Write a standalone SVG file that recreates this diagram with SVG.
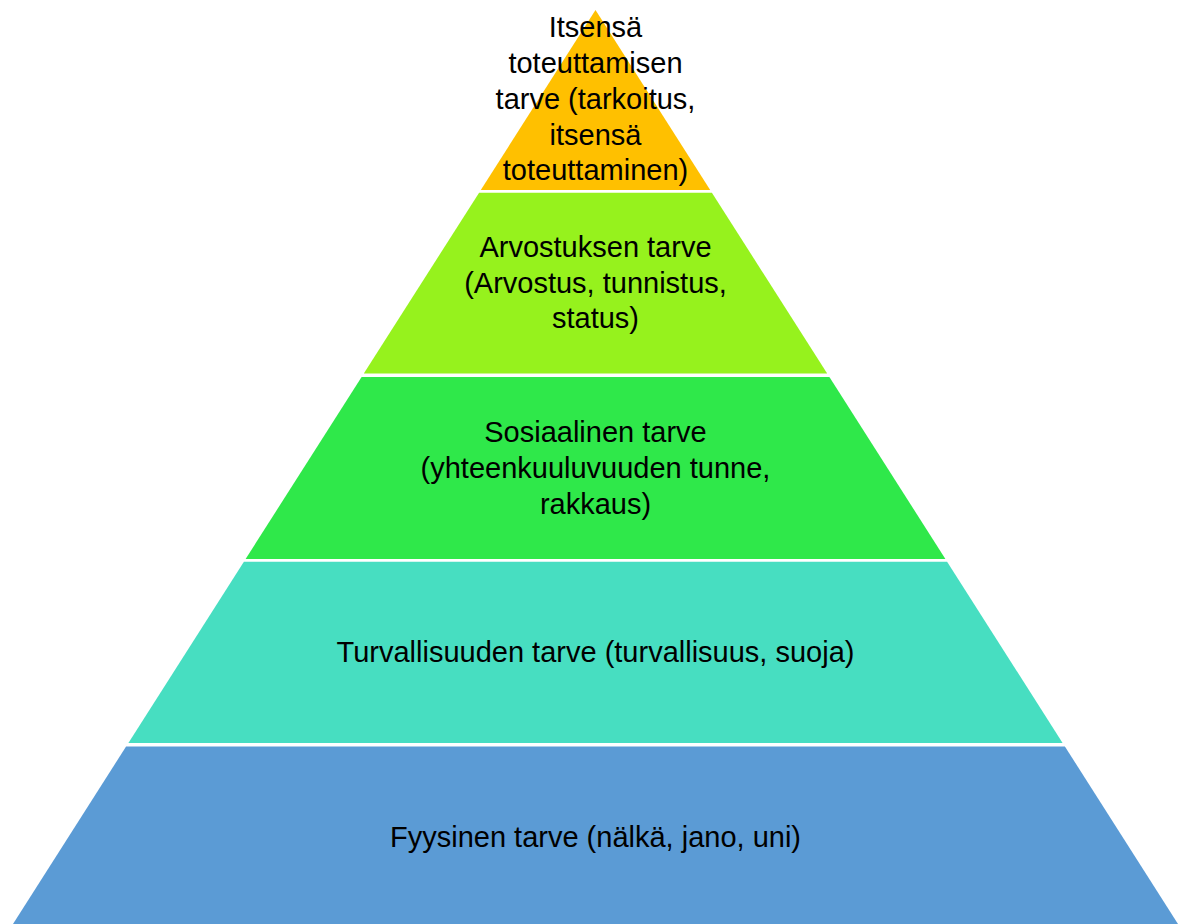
<svg xmlns="http://www.w3.org/2000/svg" width="1188" height="924" viewBox="0 0 1188 924">
<style>
  .lbl { font-family: "Liberation Sans", Arial, sans-serif; font-size: 29px; fill: #000000; text-anchor: middle; }
</style>
<rect x="0" y="0" width="1188" height="924" fill="#ffffff"/>
<g id="level5-itsensa">
  <polygon points="595.5,10 710.2,190 480.8,190" fill="#FFC000"/>
  <text class="lbl" x="595.5" y="37">Itsensä</text>
  <text class="lbl" x="595.5" y="73">toteuttamisen</text>
  <text class="lbl" x="595.5" y="109">tarve (tarkoitus,</text>
  <text class="lbl" x="595.5" y="145">itsensä</text>
  <text class="lbl" x="595.5" y="180">toteuttaminen)</text>
</g>
<g id="level4-arvostus">
  <polygon points="479.1,192.7 711.9,192.7 827.2,373.5 363.8,373.5" fill="#96F21D"/>
  <text class="lbl" x="595.5" y="257">Arvostuksen tarve</text>
  <text class="lbl" x="595.5" y="293">(Arvostus, tunnistus,</text>
  <text class="lbl" x="595.5" y="328">status)</text>
</g>
<g id="level3-sosiaalinen">
  <polygon points="361.6,377 829.4,377 945.4,559 245.6,559" fill="#2FE84A"/>
  <text class="lbl" x="595.5" y="442">Sosiaalinen tarve</text>
  <text class="lbl" x="595.5" y="478">(yhteenkuuluvuuden tunne,</text>
  <text class="lbl" x="595.5" y="514">rakkaus)</text>
</g>
<g id="level2-turvallisuus">
  <polygon points="243.9,561.7 947.1,561.7 1062.6,743 128.4,743" fill="#47DEC1"/>
  <text class="lbl" x="595.5" y="662">Turvallisuuden tarve (turvallisuus, suoja)</text>
</g>
<g id="level1-fyysinen">
  <polygon points="126.1,746.5 1064.9,746.5 1178,924 13,924" fill="#5B9BD5"/>
  <text class="lbl" x="595.5" y="847">Fyysinen tarve (nälkä, jano, uni)</text>
</g>
<g id="connectors"></g>
</svg>
